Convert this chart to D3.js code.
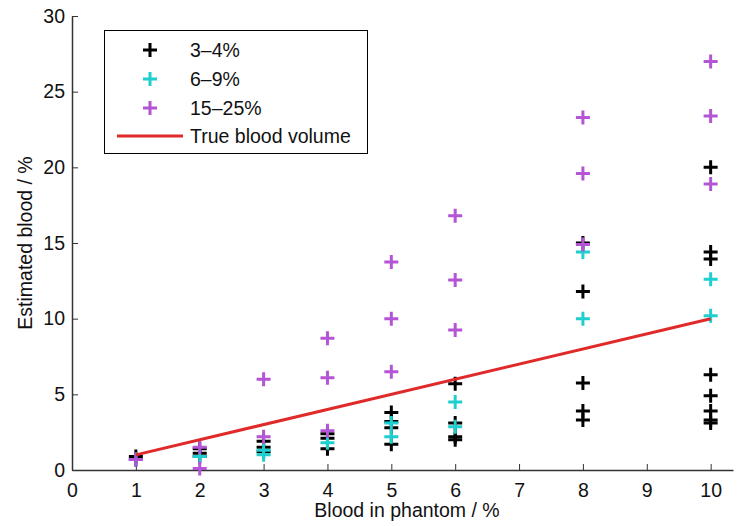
<!DOCTYPE html>
<html>
<head>
<meta charset="utf-8">
<script src="https://cdn.jsdelivr.net/npm/d3@7"></script>
<style>
  body { margin: 0; background: #fff; }
  text { font-family: "Liberation Sans", Arial, sans-serif; }
</style>
</head>
<body>
<div id="main_div"></div>
<script>
// values: [blood in phantom, estimated blood]
var low = [[1, 0.9], [1, 0.7], [2, 1.4], [2, 1.1], [2, 0.9], [3, 1.9], [3, 1.5], [3, 1.2],
    [4, 2.4], [4, 2.1], [4, 1.4], [5, 3.8], [5, 3.2], [5, 2.8], [5, 1.7],
    [6, 5.7], [6, 3.1], [6, 2.2], [6, 2.0], [8, 15.0], [8, 11.8], [8, 5.75], [8, 3.9], [8, 3.3],
    [10, 20.0], [10, 14.4], [10, 13.95], [10, 6.3], [10, 4.9], [10, 3.9], [10, 3.3], [10, 3.1]];
var mid = [[1, 0.7], [2, 0.9], [3, 1.3], [3, 1.0], [4, 1.8], [5, 3.1], [5, 2.2],
    [6, 4.5], [6, 2.85], [8, 14.4], [8, 10.0], [10, 12.6], [10, 10.2]];
var high = [[1, 0.7], [2, 1.5], [2, 0.1], [3, 6.0], [3, 2.2], [4, 8.7], [4, 6.1], [4, 2.6],
    [5, 13.75], [5, 10.0], [5, 6.5], [6, 16.8], [6, 12.55], [6, 9.25],
    [8, 23.3], [8, 19.6], [8, 14.9], [10, 27.0], [10, 23.4], [10, 18.9]];
var trueLine = [[1, 1], [10, 10]];
var seriesNames = ["3\u20134%", "6\u20139%", "15\u201325%", "True blood volume"];
var seriesColors = ["#000000", "#1fcfd0", "#b455d6", "#e02a2a"];
var x_ticks = [0, 1, 2, 3, 4, 5, 6, 7, 8, 9, 10];
var y_ticks = [0, 5, 10, 15, 20, 25, 30];

var fs = 19.5;
var x_scale = d3.scaleLinear().domain([0, 10.35]).range([72, 733]);
var y_scale = d3.scaleLinear().domain([0, 30]).range([470, 16]);

var svg = d3.select("#main_div").append("svg").attr("width", 737).attr("height", 526);

// axes, ticks pointing inward, no box
var g_x = svg.append("g").attr("transform", "translate(0,470)")
    .call(d3.axisBottom(x_scale).tickValues(x_ticks).tickSizeInner(-6).tickSizeOuter(0).tickPadding(13));
var g_y = svg.append("g").attr("transform", "translate(72,0)")
    .call(d3.axisLeft(y_scale).tickValues(y_ticks).tickSizeInner(-6).tickSizeOuter(0).tickPadding(7));
[g_x, g_y].forEach(function(g) {
    g.select(".domain").attr("stroke", "#333").attr("stroke-width", 1.5);
    g.selectAll(".tick line").attr("stroke", "#333").attr("stroke-width", 1);
    g.selectAll(".tick text").attr("font-size", fs).attr("fill", "#111")
        .attr("font-family", "Liberation Sans, Arial, sans-serif");
});
g_x.selectAll(".tick text").attr("dy", 0).attr("y", 27);

svg.append("text").attr("x", 407).attr("y", 517).attr("text-anchor", "middle")
    .attr("font-size", fs).attr("fill", "#111").text("Blood in phantom / %");
svg.append("text").attr("transform", "translate(32,243) rotate(-90)").attr("text-anchor", "middle")
    .attr("font-size", fs).attr("fill", "#111").text("Estimated blood / %");

function plus(g, px, py, color) {
    g.append("path").attr("d", "M" + (px - 7) + "," + py + "H" + (px + 7) + "M" + px + "," + (py - 7) + "V" + (py + 7))
        .attr("stroke", color).attr("stroke-width", 3).attr("fill", "none");
}

var marks = svg.append("g");
[low, mid, high].forEach(function(data, i) {
    var g = marks.append("g");
    data.forEach(function(d) {
        plus(g, x_scale(d[0]), y_scale(d[1]), seriesColors[i]);
    });
});

var line = d3.line().x(function(d) { return x_scale(d[0]); }).y(function(d) { return y_scale(d[1]); });
svg.append("path").datum(trueLine).attr("d", line)
    .attr("stroke", seriesColors[3]).attr("stroke-width", 3).attr("fill", "none");

// legend
var lg = svg.append("g");
lg.append("rect").attr("x", 104.5).attr("y", 30.5).attr("width", 263).attr("height", 123)
    .attr("fill", "#fff").attr("stroke", "#000").attr("stroke-width", 1);
var rows = [50, 79, 108, 136];
seriesNames.forEach(function(name, i) {
    if (i < 3) {
        plus(lg, 150, rows[i], seriesColors[i]);
    } else {
        lg.append("line").attr("x1", 117).attr("x2", 183).attr("y1", rows[i]).attr("y2", rows[i])
            .attr("stroke", seriesColors[i]).attr("stroke-width", 3);
    }
    lg.append("text").attr("x", 190).attr("y", rows[i] + 7).attr("font-size", fs).attr("fill", "#111").text(name);
});
</script>
</body>
</html>
